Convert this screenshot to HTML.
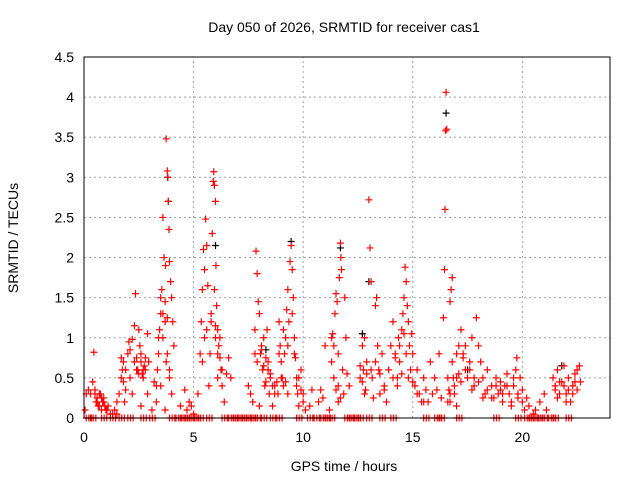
<!DOCTYPE html>
<html><head><meta charset="utf-8"><style>
body{margin:0;background:#fff;}
svg{display:block;font-family:"Liberation Sans",sans-serif;}
</style></head><body>
<svg id="chart" width="640" height="480" viewBox="0 0 640 480">
<text x="344" y="32" text-anchor="middle" font-size="14">Day 050 of 2026, SRMTID for receiver cas1</text>
<text x="344" y="471" text-anchor="middle" font-size="14">GPS time / hours</text>
<text transform="translate(18,238) rotate(-90)" text-anchor="middle" font-size="14">SRMTID / TECUs</text>
<g id="grid"></g><g id="ticks"></g><g id="marks"></g>
<rect x="84" y="57" width="526" height="361" fill="none" stroke="#000" stroke-width="1"/>
</svg>
<script>
const xTicks=[0,5,10,15,20];
const yTicks=[0,0.5,1,1.5,2,2.5,3,3.5,4,4.5];
const yTickLabels=["0","0.5","1","1.5","2","2.5","3","3.5","4","4.5"];
const redT=[0.05,0.1,0.2,0.3,0.4,0.45,0.5,0.55,0.6,0.7,0.75,0.8,0.85,0.9,1.0,1.1,1.2,1.3,1.4,1.5,
1.5,1.6,1.7,1.75,1.8,1.85,1.9,2.0,2.05,2.1,2.2,2.3,2.35,2.4,2.45,2.5,2.55,2.6,2.65,2.7,2.75,2.8,2.9,2.95,2.9,2.2,2.6,3.1,
3.2,3.3,3.35,3.4,3.45,3.5,3.55,3.6,3.65,3.7,3.72,3.75,3.8,3.82,3.85,3.88,3.9,3.95,4.0,4.05,4.1,3.8,3.75,3.9,4.0,3.6,3.5,3.7,
4.4,4.6,4.7,4.8,4.9,5.0,
5.2,5.3,5.35,5.4,5.45,5.5,5.55,5.6,5.65,5.5,5.7,5.75,5.8,5.85,5.9,5.92,5.95,6.0,6.02,6.05,6.1,6.15,6.2,6.25,6.3,6.4,6.5,6.6,6.7,6.0,6.1,5.95,
7.5,7.6,7.7,7.8,7.85,7.9,7.95,8.0,8.05,8.1,8.15,8.2,8.25,8.3,8.35,8.4,8.45,8.5,8.6,8.7,8.8,8.85,8.9,8.95,9.0,9.05,9.1,9.15,9.2,9.25,9.3,9.35,9.4,9.45,9.5,9.55,9.6,9.65,9.7,9.75,9.8,9.9,10.0,10.1,10.3,10.4,9.3,8.0,
10.7,10.8,10.9,11.0,11.2,11.3,11.35,11.4,11.45,11.5,11.55,11.6,11.65,11.7,11.72,11.75,11.8,11.85,11.9,11.95,12.0,12.1,11.6,
12.6,12.7,12.75,12.8,12.85,12.9,13.0,13.05,13.1,13.15,13.2,13.3,13.35,13.4,13.45,13.5,13.6,13.7,13.8,13.9,14.0,
14.1,14.2,14.3,14.35,14.4,14.5,14.55,14.6,14.65,14.7,14.75,14.8,14.85,14.9,14.95,15.0,15.1,15.2,15.3,15.4,15.5,15.6,15.7,15.8,15.9,16.0,16.1,16.2,16.3,
16.4,16.45,16.47,16.5,16.52,16.55,16.6,16.65,16.7,16.75,16.8,16.85,16.9,17.0,17.1,17.2,17.3,17.4,17.5,17.6,17.7,17.8,17.9,18.0,18.1,18.2,18.3,18.4,16.7,17.0,
18.6,18.7,18.8,18.9,19.0,19.1,19.2,19.3,19.4,19.5,19.6,19.7,19.75,19.8,19.9,20.0,20.1,20.2,20.3,20.5,20.6,20.8,21.0,21.1,
21.4,21.5,21.6,21.7,21.8,21.9,22.0,22.1,22.2,22.3,22.4,22.5,22.6,22.65];
const redV=[0.1,0.3,0.35,0.3,0.45,0.82,0.35,0.2,0.25,0.15,0.3,0.1,0.2,0.25,0.1,0.15,0.05,0.05,0.1,0.05,
0.2,0.3,0.75,0.6,0.45,0.2,0.35,0.8,0.95,0.5,0.98,1.15,1.55,0.75,0.6,1.1,0.9,0.8,0.55,0.6,0.65,0.6,1.05,0.7,0.3,0.3,0.15,0.1,
0.45,0.2,0.6,0.8,1.1,1.3,1.6,2.5,2.0,1.45,1.9,3.48,3.08,3.0,2.7,2.35,1.95,1.7,1.5,1.2,0.9,1.25,0.7,0.5,0.3,1.0,0.4,0.1,
0.15,0.35,0.1,0.2,0.15,0.05,
0.3,0.8,1.2,1.6,2.1,1.85,2.48,2.15,1.65,1.0,0.4,0.8,1.3,2.3,2.95,3.07,2.9,2.7,1.9,1.4,1.1,0.9,0.75,0.6,0.4,0.2,0.55,0.75,0.5,1.0,0.5,1.6,
0.4,0.3,0.2,1.1,2.08,1.8,1.45,1.3,0.8,0.9,0.6,1.0,0.4,0.75,1.1,0.6,0.3,0.5,0.15,0.4,0.45,0.3,1.2,0.9,0.7,0.5,0.4,0.8,1.0,1.35,1.6,1.2,1.95,2.15,1.85,1.5,1.0,0.75,0.5,0.3,0.15,0.6,0.2,0.1,0.15,0.35,0.3,0.15,
0.2,0.35,0.25,0.9,0.1,0.7,1.05,0.9,1.3,1.55,1.45,0.8,1.75,2.18,2.0,1.85,0.6,0.3,1.5,1.0,0.55,0.4,0.2,
0.5,0.9,0.6,1.0,0.35,0.7,2.72,2.12,1.7,0.5,0.25,1.4,1.5,0.9,0.6,0.3,0.8,0.4,0.2,0.6,0.9,
1.2,0.8,0.5,1.0,0.7,1.1,1.3,1.5,1.88,1.7,1.4,1.2,0.9,0.6,1.05,0.8,0.4,0.6,0.3,0.2,0.5,0.35,0.2,0.7,0.3,0.5,0.35,0.8,0.25,
1.25,1.85,2.6,3.58,4.06,3.6,0.2,0.35,1.45,1.6,1.75,0.5,0.3,0.15,0.9,1.1,0.8,0.6,0.5,0.7,1.0,0.4,1.25,0.9,0.7,0.5,0.3,0.6,0.2,0.5,
0.4,0.25,0.5,0.3,0.45,0.2,0.4,0.55,0.3,0.15,0.4,0.6,0.75,0.3,0.5,0.2,0.1,0.25,0.15,0.05,0.1,0.2,0.3,0.1,
0.5,0.4,0.6,0.3,0.45,0.65,0.3,0.5,0.2,0.4,0.55,0.6,0.65,0.45];
const extraT=[0.5,0.6,0.65,0.7,0.8,0.9,0.95,1.05,1.7,1.8,1.9,2.1,2.3,2.4,2.5,2.6,2.7,2.8,3.3,3.4,3.5,3.6,3.7,3.8,3.9,5.4,5.6,5.8,6.0,6.1,6.2,6.3,7.8,7.9,8.1,8.2,8.3,8.4,8.5,8.6,8.7,8.9,9.0,9.1,9.2,9.3,9.5,9.6,9.7,9.8,9.9,10.0,11.3,11.4,11.5,11.6,11.7,12.6,12.7,12.8,12.9,13.1,13.3,13.5,13.7,14.1,14.2,14.3,14.4,14.5,14.6,14.7,14.8,15.0,15.2,15.5,16.6,16.7,16.8,16.9,17.0,17.1,17.2,17.3,17.4,17.6,17.7,17.8,18.0,18.2,18.4,18.6,18.8,19.0,19.1,19.3,19.5,19.6,19.8,20.0,21.5,21.6,21.7,21.9,22.0,22.1,22.3,22.4,22.5];
const extraV=[0.3,0.2,0.15,0.3,0.25,0.2,0.15,0.1,0.5,0.7,0.6,0.85,0.7,0.6,0.55,0.7,0.5,0.75,0.4,1.0,1.5,1.3,1.2,0.8,0.6,0.7,1.1,1.2,1.15,0.8,1.0,0.6,0.8,0.7,0.85,0.65,0.45,0.7,0.55,0.4,0.3,0.8,0.5,1.1,0.45,0.9,1.3,0.8,0.4,0.5,0.35,0.3,1.0,0.5,0.35,0.4,0.25,0.65,0.45,0.3,0.55,0.6,0.7,0.55,0.35,0.5,0.75,0.4,0.9,0.55,1.05,0.8,0.5,0.45,0.3,0.2,0.5,0.3,0.7,0.4,0.8,0.55,0.45,0.75,0.9,0.6,0.35,0.5,0.45,0.25,0.35,0.25,0.4,0.35,0.3,0.4,0.2,0.5,0.25,0.35,0.35,0.25,0.45,0.4,0.2,0.35,0.3,0.45,0.35];
const zeroT=[0.1,0.3,0.8,1.2,1.6,2.0,2.6,3.0,3.9,4.2,4.4,4.6,4.8,5.0,5.2,5.6,6.3,6.6,6.8,7.0,7.2,7.4,7.6,7.8,8.1,8.5,8.8,9.7,10.2,10.5,10.8,11.0,11.2,11.9,12.1,12.3,12.5,12.9,13.5,14.0,15.5,16.0,16.2,17.0,18.7,19.7,20.1,20.3,20.5,20.7,20.9,21.2,21.4,22.0];
const blackT=[3.82,3.85,6.0,9.45,11.7,16.52,13.0,12.7,21.8,8.3,17.5];
const blackV=[3.0,2.7,2.15,2.2,2.12,3.8,1.7,1.05,0.65,0.85,0.6];

const X0=84,X1=610,Y0=418,Y1=57,XMAX=24,YMAX=4.5;
const sx=t=>X0+t/XMAX*(X1-X0);
const sy=v=>Y0-v/YMAX*(Y0-Y1);
const NS="http://www.w3.org/2000/svg";
const grid=document.getElementById('grid'),ticks=document.getElementById('ticks'),marks=document.getElementById('marks');
function mk(tag,attrs,parent){const e=document.createElementNS(NS,tag);for(const k in attrs)e.setAttribute(k,attrs[k]);parent.appendChild(e);return e;}
xTicks.forEach(t=>{
  const x=sx(t);
  if(t>0){const g=mk('line',{x1:x,x2:x,y1:Y0,y2:Y1,stroke:'#a0a0a0','stroke-dasharray':'2,3'},grid);
  
  }
  const l=mk('text',{x:x,y:Y0+24,'text-anchor':'middle','font-size':'14'},ticks);l.textContent=t;
  
  
});
yTicks.forEach((v,i)=>{
  const y=sy(v);
  if(v>0&&v<YMAX){const g=mk('line',{x1:X0,x2:X1,y1:y,y2:y,stroke:'#a0a0a0','stroke-dasharray':'2,3'},grid);
  
  }
  const l=mk('text',{x:X0-10,y:y+5,'text-anchor':'end','font-size':'14'},ticks);l.textContent=yTickLabels[i];
  
  
});
function plus(t,v,col,name){
  const x=sx(t),y=sy(v);
  const p=mk('path',{d:`M${x-3.5},${y}h7M${x},${y-3.5}v7`,stroke:col,'stroke-width':'1.2',fill:'none'},marks);
  
  
}
blackT.forEach((t,i)=>plus(t,blackV[i],'#000','black-point'));
redT.forEach((t,i)=>plus(t,redV[i],'#ff0000','red-point'));
extraT.forEach((t,i)=>plus(t,extraV[i],'#ff0000','red-point'));
zeroT.forEach(t=>{plus(t,0,'#ff0000','zero-point');plus(t+0.12,0,'#ff0000','zero-point');plus(t+0.24,0,'#ff0000','zero-point');});
</script>
</body></html>
